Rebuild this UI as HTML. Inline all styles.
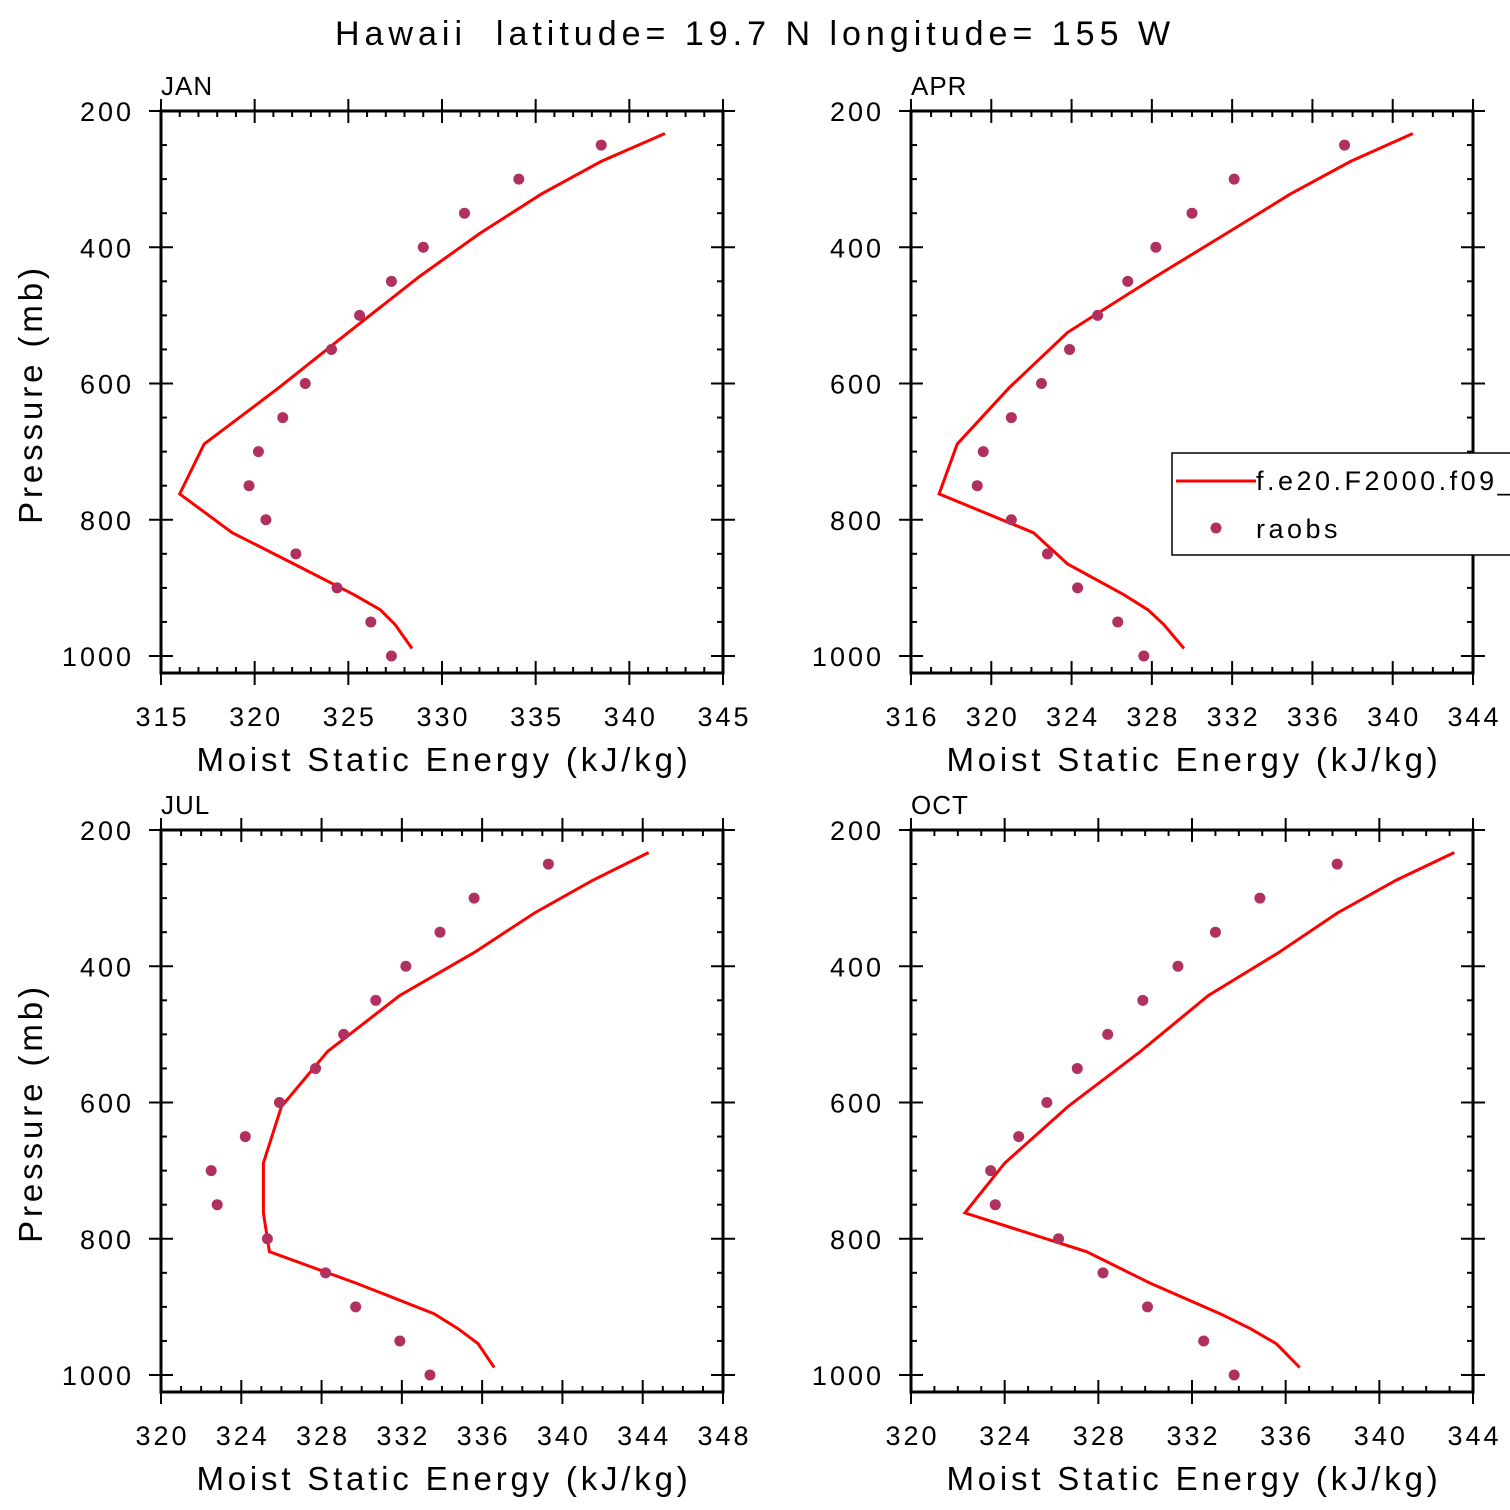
<!DOCTYPE html>
<html><head><meta charset="utf-8"><style>
body{margin:0;background:#fff;width:1510px;height:1510px;overflow:hidden}
svg{display:block}
text{font-family:"Liberation Sans",sans-serif;fill:#000}
</style></head><body>
<svg id="chart" width="1510" height="1510" viewBox="0 0 1510 1510">
<text x="755" y="45" font-size="34" text-anchor="middle" letter-spacing="5">Hawaii&#160; latitude= 19.7 N longitude= 155 W</text>
</svg>
<script>
const modelLevels=[233,274,322,380,443,525,606,689,762,819,865,910,932,954,989];
const obsLevels=[250,300,350,400,450,500,550,600,650,700,750,800,850,900,950,1000];
const janModel=[341.9,338.5,335.3,332.0,328.8,325.0,321.3,317.3,316.0,318.8,322.1,325.3,326.7,327.5,328.4];
const janObs=[338.5,334.1,331.2,329.0,327.3,325.6,324.1,322.7,321.5,320.2,319.7,320.6,322.2,324.4,326.2,327.3];
const aprModel=[341.0,337.9,334.9,331.7,328.2,323.8,320.9,318.3,317.4,322.1,323.8,326.6,327.8,328.6,329.6];
const aprObs=[337.6,332.1,330.0,328.2,326.8,325.3,323.9,322.5,321.0,319.6,319.3,321.0,322.8,324.3,326.3,327.6];
const julModel=[344.3,341.5,338.6,335.6,331.9,328.3,326.0,325.1,325.1,325.4,329.7,333.6,334.8,335.8,336.6];
const julObs=[339.3,335.6,333.9,332.2,330.7,329.1,327.7,325.9,324.2,322.5,322.8,325.3,328.2,329.7,331.9,333.4];
const octModel=[343.2,340.7,338.2,335.7,332.7,329.8,326.7,324.0,322.3,327.5,330.2,333.2,334.5,335.6,336.6];
const octObs=[338.2,334.9,333.0,331.4,329.9,328.4,327.1,325.8,324.6,323.4,323.6,326.3,328.2,330.1,332.5,333.8];
const yTicks=[200,400,600,800,1000];
const NS="http://www.w3.org/2000/svg";
const svg=document.getElementById('chart');
function mk(tag,attrs,parent){const e=document.createElementNS(NS,tag);for(const k in attrs)e.setAttribute(k,attrs[k]);(parent||svg).appendChild(e);return e;}
const panels=[
 {name:'jan',label:'JAN',x0:161,y0:111,xmin:315,xmax:345,xstep:5,minor:1,model:janModel,obs:janObs,yl:true},
 {name:'apr',label:'APR',x0:911,y0:111,xmin:316,xmax:344,xstep:4,minor:1,model:aprModel,obs:aprObs,yl:false,legend:true},
 {name:'jul',label:'JUL',x0:161,y0:830,xmin:320,xmax:348,xstep:4,minor:1,model:julModel,obs:julObs,yl:true},
 {name:'oct',label:'OCT',x0:911,y0:830,xmin:320,xmax:344,xstep:4,minor:1,model:octModel,obs:octObs,yl:false}
];
const W=562,H=562;
panels.forEach(p=>{
 const g=mk('g',{});
 
 
 const X=v=>p.x0+(v-p.xmin)/(p.xmax-p.xmin)*W;
 const Y=v=>p.y0+(v-200)*0.68125;
 for(let v=p.xmin;v<=p.xmax+1e-6;v+=p.minor){
  const maj=Math.abs((v-p.xmin)%p.xstep)<1e-6;
  const L=maj?12:6;
  const px=X(v);
  const t1=mk('line',{x1:px,x2:px,y1:p.y0-(maj?L:0),y2:p.y0+L,stroke:'#000','stroke-width':2},g);
  
  
  const t2=mk('line',{x1:px,x2:px,y1:p.y0+H-L,y2:p.y0+H+(maj?L:0),stroke:'#000','stroke-width':2},g);
  
  
  if(maj){const t=mk('text',{x:px+1.5,y:p.y0+H+53,'font-size':27,'text-anchor':'middle','letter-spacing':3},g);t.textContent=Math.round(v);
   
   }
 }
 for(let v=200;v<=1025;v+=50){
  const maj=yTicks.includes(v);const L=maj?12:6;const py=Y(v);
  const a=mk('line',{x1:p.x0-(maj?L:0),x2:p.x0+L,y1:py,y2:py,stroke:'#000','stroke-width':2},g);
  
  
  const b=mk('line',{x1:p.x0+W-L,x2:p.x0+W+(maj?L:0),y1:py,y2:py,stroke:'#000','stroke-width':2},g);
  
  
  if(maj){const t=mk('text',{x:p.x0-27,y:py+10,'font-size':27,'text-anchor':'end','letter-spacing':3},g);t.textContent=v;
   
   }
 }
 const r=mk('rect',{x:p.x0,y:p.y0,width:W,height:H,fill:'none',stroke:'#000','stroke-width':3},g);
 
 
 const lab=mk('text',{x:p.x0,y:p.y0-16,'font-size':26,'letter-spacing':1},g);lab.textContent=p.label;
 
 
 const xt=mk('text',{x:p.x0+W/2+2,y:p.y0+H+98,'font-size':33,'text-anchor':'middle','letter-spacing':3.8},g);xt.textContent='Moist Static Energy (kJ/kg)';
 
 
 if(p.yl){const yt=mk('text',{x:0,y:0,'font-size':33,'text-anchor':'middle','letter-spacing':3.9,transform:`translate(42,${p.y0+283}) rotate(-90)`},g);yt.textContent='Pressure (mb)';
  
  }
 const pts=p.model.map((v,i)=>X(v).toFixed(1)+','+Y(modelLevels[i]).toFixed(1)).join(' ');
 const line=mk('polyline',{points:pts,fill:'none',stroke:'#ff0000','stroke-width':3,'stroke-linejoin':'miter'},g);
 
 
 p.obs.forEach((v,i)=>{const c=mk('circle',{cx:X(v),cy:Y(obsLevels[i]),r:5.5,fill:'#b03060'},g);
  
  });
 if(p.legend){
  const lg=mk('g',{},g);
  
  
  mk('rect',{x:1172,y:453,width:345,height:102,fill:'#fff',stroke:'#000','stroke-width':1.5},lg);
  const le=mk('line',{x1:1176,x2:1256,y1:481,y2:481,stroke:'#ff0000','stroke-width':3},lg);
  
  
  const t1=mk('text',{x:1256,y:490,'font-size':27,'letter-spacing':3.5},lg);t1.textContent='f.e20.F2000.f09_g16';
  
  
  const c=mk('circle',{cx:1216,cy:528,r:5.5,fill:'#b03060'},lg);
  
  
  const t2=mk('text',{x:1256,y:538,'font-size':27,'letter-spacing':3.5},lg);t2.textContent='raobs';
  
  
 }
});
</script>
</body></html>
